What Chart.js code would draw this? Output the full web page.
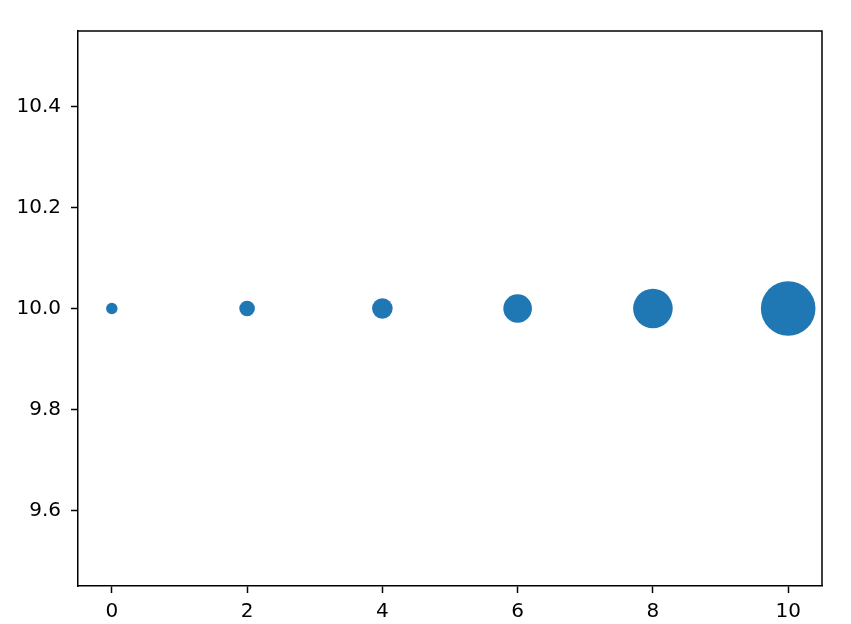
<!DOCTYPE html>
<html>
<head>
<meta charset="utf-8">
<script src="https://cdn.jsdelivr.net/npm/chart.js@4"></script>
<style>
  html, body { margin: 0; padding: 0; background: #fff; }
  #wrap { width: 851px; height: 624px; }
</style>
</head>
<body>
<div id="wrap"><canvas id="c" width="851" height="624"></canvas></div>
<script>
const xVals = [0, 2, 4, 6, 8, 10];
const yVals = [10, 10, 10, 10, 10, 10];
const radii = [5.7, 7.8, 10.3, 14.3, 19.8, 27.3];
const xTicks = [0, 2, 4, 6, 8, 10];
const yTicks = [9.6, 9.8, 10.0, 10.2, 10.4];

const points = xVals.map((x, i) => ({ x: x, y: yVals[i], r: radii[i] }));

// top and right spines
const frame = {
  id: 'frame',
  afterDraw(chart) {
    const { ctx, chartArea: a } = chart;
    ctx.save();
    ctx.strokeStyle = '#000';
    ctx.lineWidth = 1.5;
    ctx.beginPath();
    ctx.moveTo(a.left, a.top);
    ctx.lineTo(a.right, a.top);
    ctx.lineTo(a.right, a.bottom);
    ctx.stroke();
    ctx.restore();
  }
};

const tickFont = { family: 'DejaVu Sans', size: 20 };

new Chart(document.getElementById('c'), {
  type: 'bubble',
  data: {
    datasets: [{
      data: points,
      backgroundColor: '#1f77b4',
      borderWidth: 0,
      hoverBorderWidth: 0
    }]
  },
  options: {
    responsive: false,
    animation: false,
    clip: false,
    layout: { padding: { top: 31, right: 29, left: 0, bottom: 0 } },
    plugins: { legend: { display: false }, tooltip: { enabled: false } },
    scales: {
      x: {
        type: 'linear',
        min: -0.5,
        max: 10.5,
        afterBuildTicks: s => { s.ticks = xTicks.map(v => ({ value: v })); },
        afterFit: s => { s.height = 38; },
        ticks: { color: '#000', font: tickFont, padding: 7, callback: v => String(v) },
        grid: { drawOnChartArea: false, tickLength: 7, tickColor: '#000', tickWidth: 1.5 },
        border: { color: '#000', width: 1.5 }
      },
      y: {
        type: 'linear',
        min: 9.45,
        max: 10.55,
        afterBuildTicks: s => { s.ticks = yTicks.map(v => ({ value: v })); },
        afterFit: s => { s.width = 78; },
        ticks: { color: '#000', font: tickFont, padding: 10, callback: v => v.toFixed(1) },
        grid: { drawOnChartArea: false, tickLength: 7, tickColor: '#000', tickWidth: 1.5 },
        border: { color: '#000', width: 1.5 }
      }
    }
  },
  plugins: [frame]
});
</script>
</body>
</html>
